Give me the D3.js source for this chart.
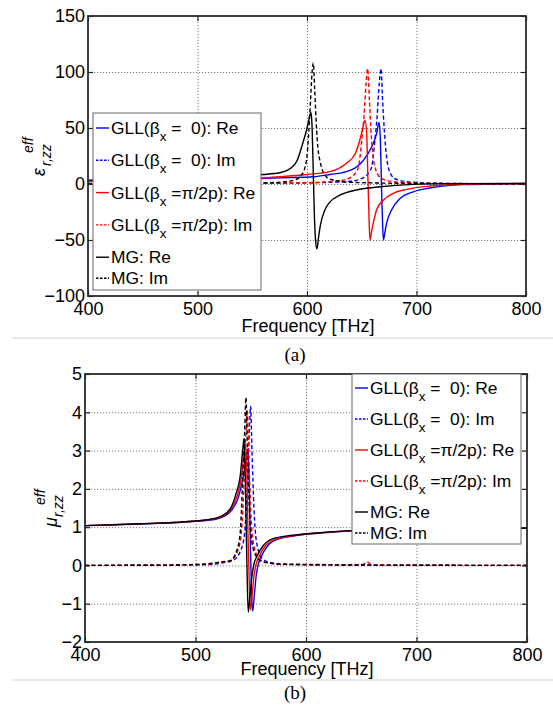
<!DOCTYPE html>
<html>
<head>
<meta charset="utf-8">
<script src="https://cdn.jsdelivr.net/npm/d3@7"></script>
<style>
body { margin: 0; background: #fff; }
svg text { font-family: "Liberation Sans", Arial, sans-serif; fill: #000; }
</style>
</head>
<body>
<svg id="fig" width="553" height="707"></svg>
<script>

// Data
//---------
var freqTicks = [400, 500, 600, 700, 800];
var epsTicks = [-100, -50, 0, 50, 100, 150];
var muTicks = [-2, -1, 0, 1, 2, 3, 4, 5];

var legendNames = [
	["GLL(\u03b2", "x", " =  0): Re"],
	["GLL(\u03b2", "x", " =  0): Im"],
	["GLL(\u03b2", "x", " =\u03c0/2p): Re"],
	["GLL(\u03b2", "x", " =\u03c0/2p): Im"],
	["MG: Re", "", ""],
	["MG: Im", "", ""]
];
var seriesColors = ["#0000ff", "#0000ff", "#ff0000", "#ff0000", "#000000", "#000000"];
var seriesDashed = [false, true, false, true, false, true];

// (a) epsilon
var epsGll0Re = [[400, 2.2], [450, 2.7], [500, 3.4], [550, 4.5], [575, 5.5], [606, 6.5], [621, 8.5], [636, 11], [651.4, 21], [659, 33], [663.6, 45], [665.8, 55], [667, 40], [668, 0], [669, -35], [669.8, -50], [671, -44], [672.7, -35], [677.3, -23], [684.9, -13], [697, -7], [712, -3.6], [742, -0.6], [800, 0.4]];
var epsGll0Im = [[400, 0.2], [550, 0.5], [600, 1], [640, 2.5], [652, 6], [657, 11], [659, 15], [662, 39], [664, 60], [666, 90], [667.6, 103], [669, 75], [670.4, 51], [672.7, 24], [675, 12], [677, 8], [682, 4], [697, 1.5], [730, 0.5], [800, 0.2]];
var epsGll2Re = [[400, 2.5], [450, 3], [500, 3.8], [550, 5], [575, 6.5], [600, 8.5], [621, 11], [636, 18.5], [644, 27], [648.5, 40], [651, 50], [653, 57], [654.5, 45], [655.5, 10], [656.5, -25], [657.5, -50], [659, -42], [660.5, -35], [663.6, -23], [669.7, -14.5], [678.8, -8.3], [691, -4.8], [712, -1.8], [742, -0.3], [800, 0.4]];
var epsGll2Im = [[400, 0.2], [550, 0.6], [600, 1.2], [630, 3], [640, 6], [645, 11], [647, 15], [650, 39], [652, 60], [654, 90], [655.4, 103], [657, 75], [658.2, 51], [660.5, 24], [663, 12], [665, 8], [670, 4], [685, 1.5], [720, 0.5], [800, 0.2]];
var epsMgRe = [[400, 3.5], [450, 4.5], [500, 5.5], [540, 7.5], [560, 8.5], [575, 10], [585, 14], [591, 21], [596, 36], [599, 46], [601, 54], [603.6, 64], [604.6, 52], [605.5, 20], [606.5, -20], [607.8, -50], [609, -58], [610.5, -48], [612, -38], [616.4, -23], [621, -16], [630, -10], [645, -5.4], [667, -2.4], [697, -0.3], [730, 0.3], [800, 0.6]];
var epsMgIm = [[400, 0.3], [500, 0.5], [560, 1], [580, 2], [590, 4], [595, 8], [598.2, 15], [600, 25], [601.2, 40], [603, 70], [604.5, 98], [605.8, 108], [607, 85], [608.8, 48], [610, 32], [612, 20], [616.4, 8], [622, 4], [640, 1.5], [700, 0.5], [800, 0.2]];

// (b) mu
var muGll0Re = [[400, 1.04], [450, 1.08], [500, 1.15], [520, 1.22], [531, 1.39], [539, 1.8], [543, 2.3], [546, 2.8], [547.5, 3.05], [548.5, 2.3], [549.5, 0.8], [550.5, -0.5], [551.8, -1.19], [553, -0.85], [555, -0.25], [557, 0.05], [559, 0.2], [565, 0.5], [574, 0.68], [589, 0.77], [610, 0.84], [640, 0.9], [700, 0.95], [800, 0.97]];
var muGll0Im = [[400, 0], [510, 0.02], [525, 0.07], [534, 0.13], [541, 0.4], [544.5, 0.85], [547, 2.2], [548.7, 3.5], [549.9, 4.15], [551.1, 3.0], [552.9, 1.5], [555, 0.65], [559.5, 0.22], [566, 0.09], [580, 0.03], [650, 0.01], [800, 0]];
var muGll2Re = [[400, 1.04], [450, 1.09], [500, 1.16], [520, 1.24], [531, 1.43], [538, 1.85], [541.5, 2.3], [544, 2.95], [545.3, 3.18], [546.5, 2.4], [547.5, 0.8], [548.7, -0.5], [549.9, -1.16], [551, -0.85], [553, -0.25], [555, 0.05], [557, 0.2], [563, 0.5], [572, 0.68], [587, 0.77], [608, 0.84], [640, 0.9], [700, 0.95], [800, 0.97]];
var muGll2Im = [[400, 0], [510, 0.03], [525, 0.09], [532, 0.13], [538.5, 0.4], [541.5, 0.85], [544, 2.2], [545.7, 3.5], [546.9, 4.05], [548.1, 3.0], [549.9, 1.5], [552, 0.65], [556.5, 0.22], [563, 0.09], [580, 0.03], [650, 0.02], [653, 0.05], [655.5, 0.09], [658, 0.04], [662, 0.01], [800, 0]];
var muMgRe = [[400, 1.04], [450, 1.09], [500, 1.16], [520, 1.25], [531, 1.46], [537, 1.9], [540.3, 2.3], [542.7, 3.0], [543.9, 3.31], [545, 2.4], [546, 0.8], [547, -0.6], [547.8, -1.22], [549, -0.9], [551, -0.3], [553, 0.05], [555.3, 0.22], [561.4, 0.52], [570.4, 0.70], [585.5, 0.78], [606.6, 0.84], [640, 0.91], [700, 0.95], [800, 0.97]];
var muMgIm = [[400, 0], [480, 0.01], [510, 0.04], [525, 0.1], [531, 0.12], [537.3, 0.39], [540.3, 0.8], [542.7, 2.22], [544.5, 3.52], [545.7, 4.39], [546.9, 3.09], [548.7, 1.52], [550.8, 0.65], [555.3, 0.22], [561.4, 0.09], [580, 0.03], [650, 0.01], [800, 0]];

// Setup
//---------
var svg = d3.select("#fig");
var textSize = 18;
var legendSize = 17.4;

//-- Figure separators
[338, 680].forEach(function(yy) {
	svg.append("line")
		.attr("x1", 12).attr("x2", 553)
		.attr("y1", yy).attr("y2", yy)
		.attr("stroke", "#e2e2e2")
		.attr("stroke-width", 1.5);
});

// Panel
//---------
function drawPanel(p) {

	var x = d3.scaleLinear().domain([400, 800]).range([p.left, p.right]);
	var y = d3.scaleLinear().domain(p.yDomain).range([p.bottom, p.top]);
	var w = p.right - p.left;
	var h = p.bottom - p.top;
	var g = svg.append("g");
	var fmt = d3.format("d");

	//-- Grid
	var gx = g.append("g").attr("transform", "translate(0," + p.bottom + ")")
		.call(d3.axisBottom(x).tickValues(p.xTicks.slice(1, -1)).tickSize(-h).tickFormat(""));
	var gy = g.append("g").attr("transform", "translate(" + p.left + ",0)")
		.call(d3.axisLeft(y).tickValues(p.yTicks.slice(1, -1)).tickSize(-w).tickFormat(""));
	[gx, gy].forEach(function(a) {
		a.select(".domain").remove();
		a.selectAll("line")
			.attr("stroke", "#555")
			.attr("stroke-width", 0.8)
			.attr("stroke-dasharray", "1.2,1.8");
	});

	//-- Clip
	g.append("clipPath").attr("id", p.id + "-clip")
		.append("rect").attr("x", p.left).attr("y", p.top).attr("width", w).attr("height", h);

	//-- Lines
	var line = d3.line()
		.x(function(d) { return x(d[0]); })
		.y(function(d) { return y(d[1]); })
		.curve(d3.curveMonotoneX);
	var lines = g.append("g").attr("clip-path", "url(#" + p.id + "-clip)");
	p.series.forEach(function(s, i) {
		lines.append("path")
			.attr("d", line(s))
			.attr("fill", "none")
			.attr("stroke", seriesColors[i])
			.attr("stroke-width", 1.4)
			.attr("stroke-linejoin", "round")
			.attr("stroke-dasharray", seriesDashed[i] ? "4,2.5" : null);
	});

	//-- Axes (ticks inside on all sides)
	var axes = [
		{ ax: d3.axisBottom(x).tickValues(p.xTicks).tickSize(-5).tickPadding(6).tickFormat(fmt), t: "translate(0," + p.bottom + ")" },
		{ ax: d3.axisTop(x).tickValues(p.xTicks).tickSize(-5).tickFormat(""), t: "translate(0," + p.top + ")" },
		{ ax: d3.axisLeft(y).tickValues(p.yTicks).tickSize(-5).tickPadding(3).tickFormat(fmt), t: "translate(" + p.left + ",0)" },
		{ ax: d3.axisRight(y).tickValues(p.yTicks).tickSize(-5).tickFormat(""), t: "translate(" + p.right + ",0)" }
	];
	axes.forEach(function(a) {
		var ag = g.append("g").attr("transform", a.t).call(a.ax);
		ag.select(".domain").remove();
		ag.selectAll("line").attr("stroke", "#222").attr("stroke-width", 1.2);
		ag.selectAll("text")
			.attr("font-size", textSize)
			.attr("font-family", "Liberation Sans, Arial, sans-serif")
			.attr("fill", "#000");
	});

	//-- Frame
	g.append("rect")
		.attr("x", p.left).attr("y", p.top)
		.attr("width", w).attr("height", h)
		.attr("fill", "none")
		.attr("stroke", "#2a2a2a")
		.attr("stroke-width", 1.8);

	//-- X label
	g.append("text")
		.attr("x", (p.left + p.right) / 2 + 1)
		.attr("y", p.xLabelY)
		.attr("text-anchor", "middle")
		.attr("font-size", textSize)
		.text("Frequency [THz]");

	//-- Y label (rotated, with super/subscript)
	var yl = g.append("g").attr("transform", "translate(" + p.yLabelX + "," + p.yLabelY + ") rotate(-90)");
	yl.append("text")
		.attr("x", 0).attr("y", 0)
		.attr("font-size", textSize)
		.attr("font-style", "italic")
		.text(p.symbol);
	yl.append("text")
		.attr("x", p.supX).attr("y", -12)
		.attr("font-size", 14)
		.attr("font-style", "italic")
		.text("eff");
	yl.append("text")
		.attr("x", p.subX).attr("y", 6)
		.attr("font-size", 14)
		.attr("font-style", "italic")
		.text("r,zz");

	//-- Legend
	var L = p.legend;
	var lg = g.append("g");
	lg.append("rect")
		.attr("x", L.x).attr("y", L.y)
		.attr("width", L.w).attr("height", L.h)
		.attr("fill", "#fff")
		.attr("stroke", "#666")
		.attr("stroke-width", 1);
	legendNames.forEach(function(n, i) {
		var by = L.first + Math.min(i, 4) * L.step + (i == 5 ? 21 : 0);
		lg.append("line")
			.attr("x1", L.x + 3).attr("x2", L.x + 16)
			.attr("y1", by - 6).attr("y2", by - 6)
			.attr("stroke", seriesColors[i])
			.attr("stroke-width", 1.4)
			.attr("stroke-dasharray", seriesDashed[i] ? "2.5,1.5" : null);
		var t = lg.append("text")
			.attr("x", L.x + 18)
			.attr("y", by)
			.attr("font-size", legendSize)
			.style("white-space", "pre");
		t.append("tspan").text(n[0]);
		if (n[1]) {
			t.append("tspan").attr("dy", 7).attr("font-size", 13.5).text(n[1]);
			t.append("tspan").attr("dy", -7).text(n[2]);
		}
	});

	//-- Panel caption
	svg.append("text")
		.attr("x", 295)
		.attr("y", p.captionY)
		.attr("text-anchor", "middle")
		.style("font-family", "Liberation Serif, Times New Roman, serif")
		.attr("font-size", 19)
		.text(p.caption);
}

// Make panels
//---------
drawPanel({
	id: "a",
	left: 88, right: 526, top: 16, bottom: 296,
	yDomain: [-100, 150],
	xTicks: freqTicks, yTicks: epsTicks,
	series: [epsGll0Re, epsGll0Im, epsGll2Re, epsGll2Im, epsMgRe, epsMgIm],
	xLabelY: 332,
	symbol: "\u03b5", yLabelX: 45, yLabelY: 176, supX: 23, subX: 10,
	legend: { x: 93, y: 113, w: 168, h: 177, first: 134, step: 32.3 },
	caption: "(a)", captionY: 361
});

drawPanel({
	id: "b",
	left: 85, right: 527, top: 374, bottom: 642,
	yDomain: [-2, 5],
	xTicks: freqTicks, yTicks: muTicks,
	series: [muGll0Re, muGll0Im, muGll2Re, muGll2Im, muMgRe, muMgIm],
	xLabelY: 675,
	symbol: "\u03bc", yLabelX: 57, yLabelY: 527, supX: 22, subX: 10,
	legend: { x: 352, y: 374, w: 169, h: 170, first: 394, step: 31 },
	caption: "(b)", captionY: 699
});

</script>
</body>
</html>
